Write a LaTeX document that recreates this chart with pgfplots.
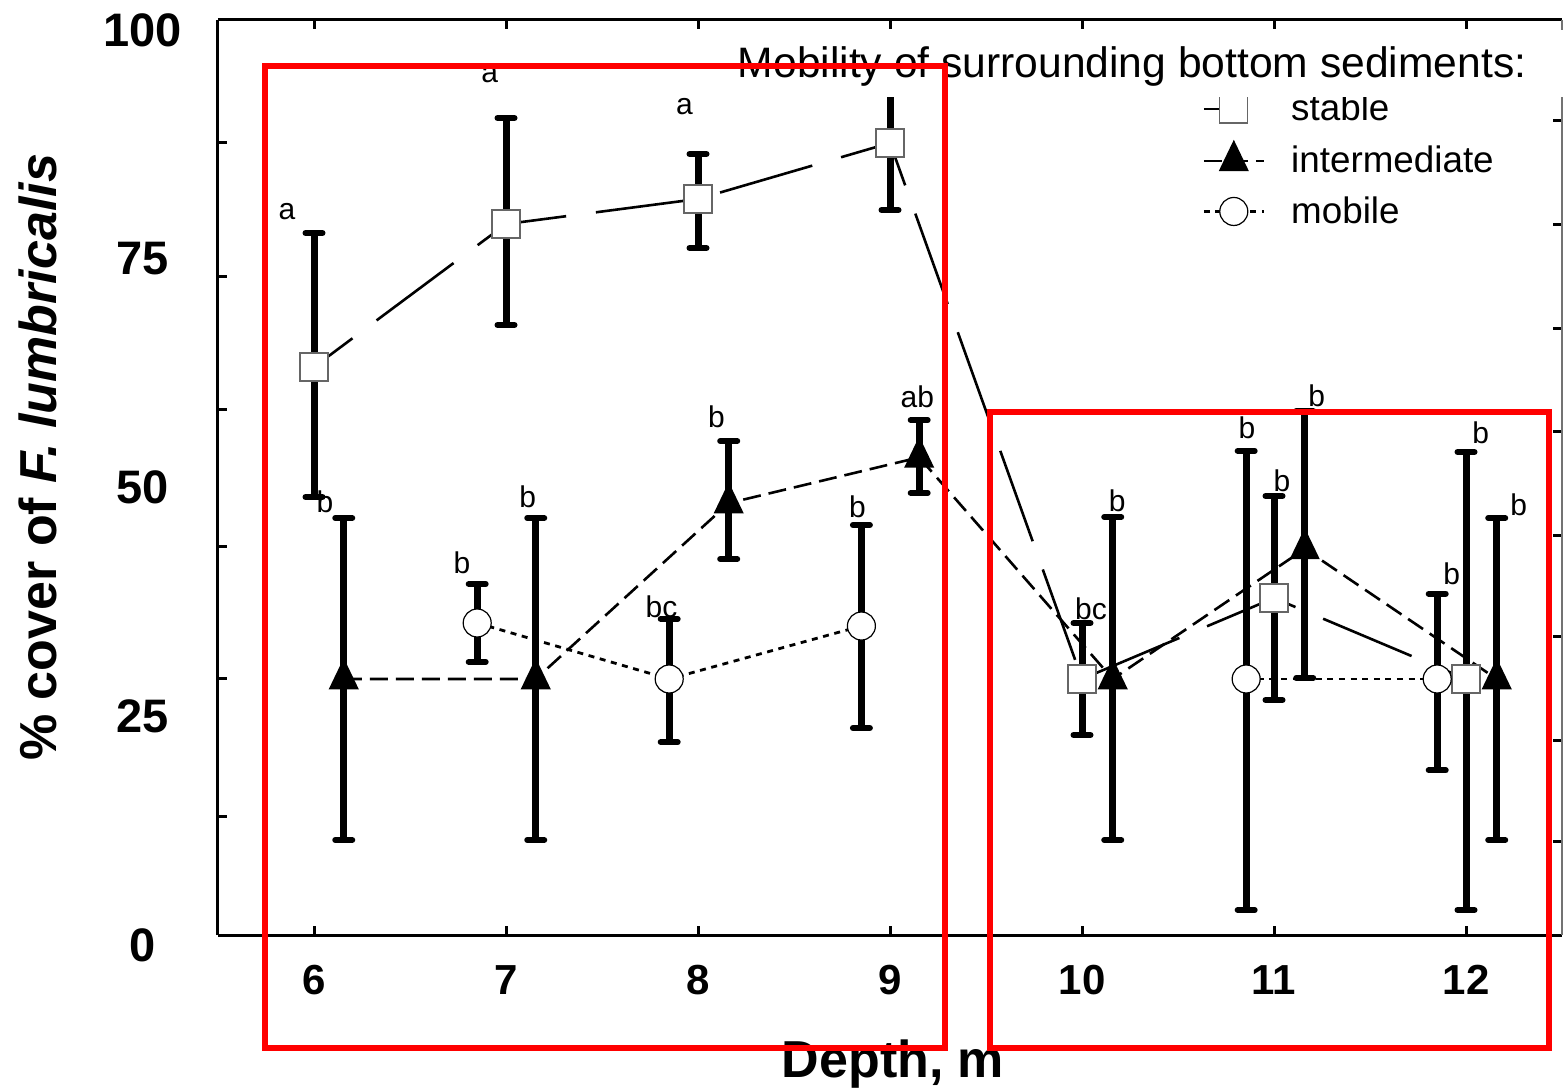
\documentclass[border=0pt]{standalone}
\usepackage{fontspec}
\setmainfont{Liberation Sans}
\usepackage{pgfplots}
\pgfplotsset{compat=1.18}

\pgfplotsset{
  ebars/.style={
    /pgfplots/error bars/y dir=both,
    /pgfplots/error bars/y explicit,
    /pgfplots/error bars/error bar style={line width=3.5pt, solid, black},
    /pgfplots/error bars/error mark options={rotate=90, line width=3pt, mark size=4.25pt, line cap=round, solid, black},
  },
  stablestyle/.style={black, line width=1.3pt, dash pattern=on 48pt off 15pt, dash phase=24pt,
    mark=square*, mark size=7pt, mark options={solid, fill=white, draw=black!60, line width=0.6pt}},
  interstyle/.style={black, line width=1.3pt, dash pattern=on 9pt off 4pt,
    mark=triangle*, mark size=7.5pt, mark options={solid, fill=black, yscale=1.2}},
  mobilestyle/.style={black, line width=1.4pt, dash pattern=on 3pt off 2.8pt,
    mark=*, mark size=7pt, mark options={solid, fill=white, draw=black, line width=0.6pt}},
}

\begin{document}
\begin{tikzpicture}
\begin{axis}[
  name=main,
  scale only axis, width=672pt, height=457.5pt,
  xmin=5.5, xmax=12.5, ymin=0, ymax=100,
  clip=false,
  axis x line=box, axis y line=left,
  axis line style={line width=1.5pt, black, -},
  x axis line style={-}, y axis line style={-},
  xtick={6,7,8,9,10,11,12},
  ytick={13.0,27.98,42.51,57.38,72.02,86.56},
  yticklabels={},
  extra y ticks={0,25,50,75,100},
  extra y tick labels={0,25,50,75,100},
  extra y tick style={major tick length=0pt},
  tick align=inside,
  major tick length=4.5pt,
  tick style={line width=1.5pt, black},
  /pgf/number format/assume math mode=true,
  xticklabel style={font=\fontsize{21}{25}\selectfont\bfseries, inner sep=0pt, yshift=-15pt},
  yticklabel style={font=\fontsize{23.5}{28}\selectfont\bfseries, text width=40pt, align=center, inner sep=0pt, xshift=-17.5pt, yshift=-5pt},
  xlabel={Depth, m},
  xlabel style={at={(axis description cs:0.5,0)}, anchor=north, inner sep=0pt, yshift=-52pt, xshift=1.5pt,
    font=\fontsize{26}{31}\selectfont\bfseries},
  ylabel={\% cover of \textit{F. lumbricalis}},
  ylabel style={at={(axis description cs:-0.1339,0.522)}, anchor=center, inner sep=0pt,
    font=\fontsize{26}{31}\selectfont\bfseries},
  legend style={draw=none, fill=none, at={(axis cs:10.625,92.16)}, anchor=north west,
    inner sep=0pt, row sep=8.5pt, column sep=12pt, font=\fontsize{18.4}{22}\selectfont,
    nodes={inner sep=1pt}},
  legend cell align=left,
  legend image code/.code={\draw[mark repeat=2, mark phase=2, #1] plot coordinates {(0pt,0pt) (15pt,0pt) (30pt,0pt)};},
]

% stable
\addplot[stablestyle, forget plot, ebars] table[x=x, y=y, y error plus=ep, y error minus=em] {
x      y      ep     em
6      62.08  14.64  14.21
7      77.70  11.59  11.03
8      80.44  4.92   5.36
9      86.56  6.44   7.33
10     27.98  6.12   6.12
11     36.83  11.15  11.15
12     27.98  24.81  25.25
};

% intermediate
\addplot[interstyle, forget plot, ebars] table[x=x, y=y, y error plus=ep, y error minus=em] {
x       y      ep     em
6.155   27.98  17.59  17.60
7.155   27.98  17.59  17.60
8.160   47.20  6.79   6.11
9.152   52.20  4.08   3.89
10.160  27.98  17.70  17.60
11.160  42.20  15.07  14.11
12.160  27.98  17.59  17.60
};

% mobile (no value at 6 and 10 m)
\addplot[mobilestyle, forget plot, ebars] table[x=x, y=y, y error plus=ep, y error minus=em] {
x       y      ep     em
6.850   34.10  4.26   4.26
7.850   27.98  6.56   6.89
8.851   33.77  11.04  11.15
};
\addplot[mobilestyle, forget plot, ebars] table[x=x, y=y, y error plus=ep, y error minus=em] {
x       y      ep     em
10.855  27.98  24.92  25.25
11.850  27.98  9.32   9.98
};

% significance letters
\addplot[only marks, mark=none, forget plot, nodes near coords, point meta=explicit symbolic,
  nodes near coords style={anchor=center, inner sep=0pt, font=\fontsize{15}{18}\selectfont}]
  table[x=x, y=y, meta=t] {
x       y      t
5.859   79.02  a
6.915   93.99  a
7.930   90.49  a
6.057   47.32  b
7.113   47.87  b
6.770   40.66  b
8.096   56.61  b
9.142   58.80  ab
8.830   46.78  b
7.810   35.85  bc
10.047  35.63  bc
10.183  47.43  b
10.859  55.41  b
11.041  49.62  b
11.223  58.91  b
11.926  39.45  b
12.077  54.86  b
12.274  46.99  b
};

\addlegendimage{stablestyle, dash pattern=on 10pt off 40pt, dash phase=0pt}
\addlegendentry{stable}
\addlegendimage{interstyle}
\addlegendentry{intermediate}
\addlegendimage{mobilestyle}
\addlegendentry{mobile}
\end{axis}

\begin{axis}[
  scale only axis, width=672pt, height=457.5pt,
  xmin=5.5, xmax=12.5, ymin=0, ymax=100,
  clip=false,
  axis x line=none, axis y line*=right,
  y axis line style={line width=1pt, black!55, -},
  ytick={10.2,21.3,32.6,43.7,55.0,66.3,77.6,89.0},
  yticklabels={},
  tick align=inside, major tick length=4.5pt,
  tick style={line width=1.5pt, black},
]
\fill[white] (axis cs:8.153,91.58) rectangle (axis cs:12.52,98.9);
\node[anchor=base west, inner sep=0pt, font=\fontsize{21.3}{26}\selectfont]
  at (axis cs:8.2055,93.77) {Mobility of surrounding bottom sediments:};
\addplot[red, line width=3pt, mark=none, line cap=rect, line join=miter] coordinates {
  (5.7445,94.92) (9.285,94.92) (9.285,-12.40) (5.7445,-12.40) (5.7445,94.92)};
\addplot[red, line width=3pt, mark=none, line cap=rect, line join=miter] coordinates {
  (9.519,57.16) (12.433,57.16) (12.433,-12.40) (9.519,-12.40) (9.519,57.16)};
\end{axis}

\pgfresetboundingbox
\path ([shift={(-109pt,-76.5pt)}]main.south west) rectangle ([shift={(0.5pt,10pt)}]main.north east);
\end{tikzpicture}
\end{document}
